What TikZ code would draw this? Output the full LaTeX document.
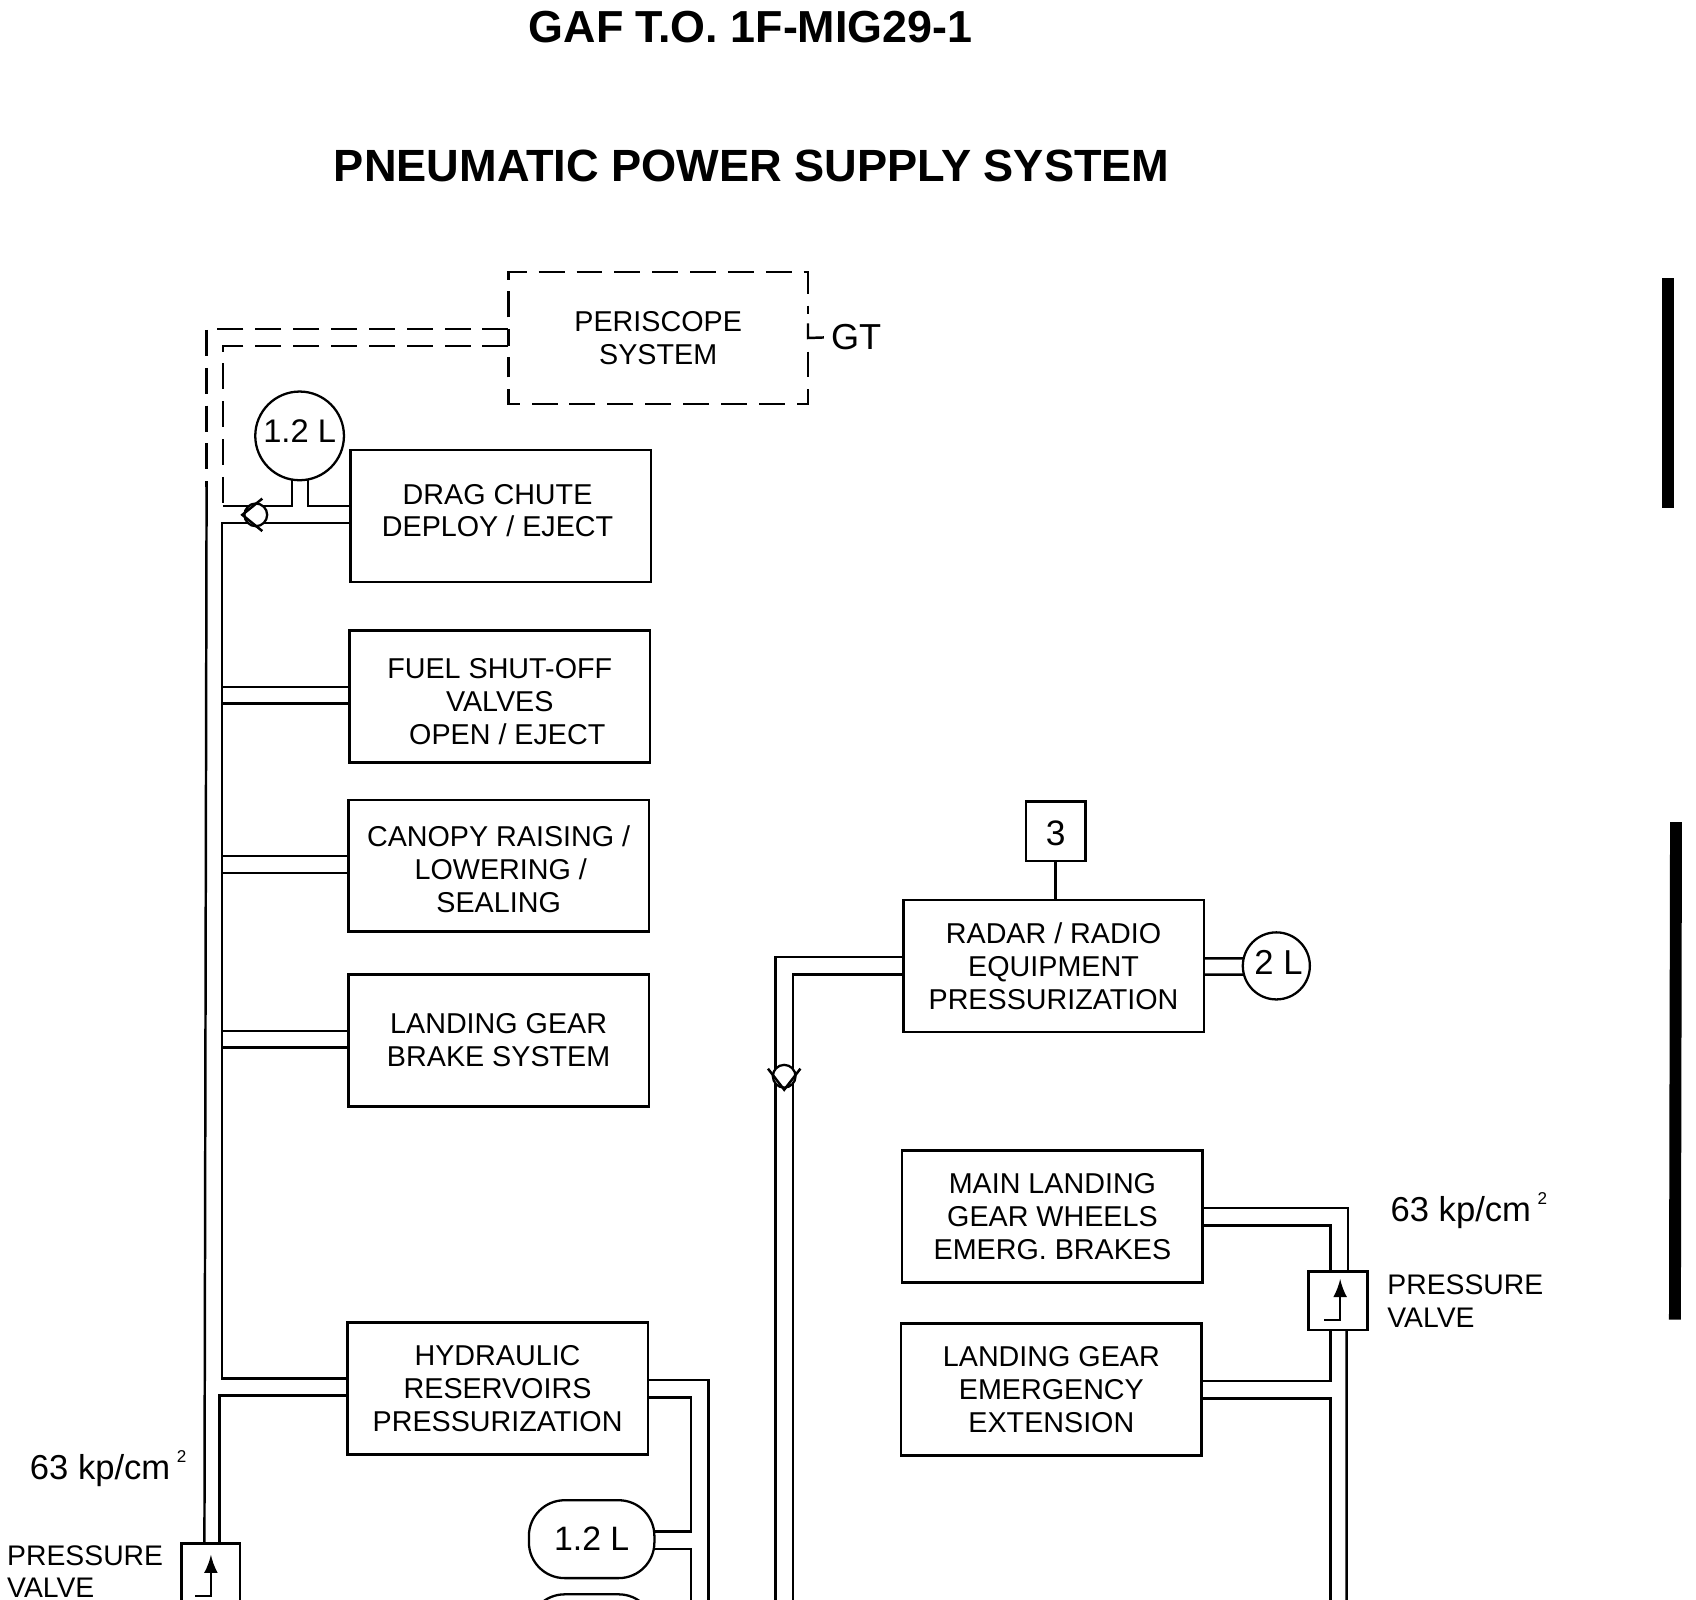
\documentclass[tikz,border=0pt]{standalone}
\usepackage{fontspec}
\setmainfont{Liberation Sans}
\usepackage{tikz}
\usetikzlibrary{arrows,positioning}

\tikzset{
  sysbox/.style={draw, line width=.7pt, minimum width=2.78cm, minimum height=1.22cm, inner sep=0pt, outer sep=0pt,
    align=center, font=\fontsize{7.55}{8.65}\selectfont},
  numbox/.style={draw, line width=.7pt, minimum size=.55cm, inner sep=0pt, outer sep=0pt, text height=.27cm, font=\fontsize{9.3}{10}\selectfont},
  valvebox/.style={draw, line width=.7pt, minimum size=.54cm, inner sep=0pt, outer sep=0pt},
  bottle/.style={draw, line width=.6pt, circle, inner sep=0pt, outer sep=0pt, font=\fontsize{8.6}{10}\selectfont},
  tank/.style={draw, line width=.6pt, rectangle, rounded corners=.33cm, minimum width=1.16cm, minimum height=.72cm,
    inner sep=0pt, outer sep=0pt, font=\fontsize{8.9}{10}\selectfont},
  pipe/.style={line width=.65pt},
  airline/.style={line width=.65pt, dash pattern=on .24cm off .11cm},
  chk/.style={draw, line width=.6pt, circle, fill=white, minimum size=.21cm, inner sep=0pt},
  lbl/.style={inner sep=0pt, align=left, font=\fontsize{7.45}{8.65}\selectfont},
  bigl/.style={inner sep=0pt, font=\fontsize{9.1}{10}\selectfont}
}
\newcommand{\kpcm}{63 kp/cm\hspace{.06cm}\raisebox{.95ex}{\fontsize{4.5}{5}\selectfont 2}}

\begin{document}
\begin{tikzpicture}[x=1cm,y=-1cm]
  \useasboundingbox (0,0) rectangle (15.68,14.79);
  \clip (0,0) rectangle (15.68,14.79);

  \node[inner sep=0pt, font=\bfseries\fontsize{11.8}{13}\selectfont] (gaf) at (6.94,.25) {GAF T.O. 1F-MIG29-1};
  \node[inner sep=0pt, font=\bfseries\fontsize{11.88}{14}\selectfont] (head) at (6.95,1.53) {PNEUMATIC POWER SUPPLY SYSTEM};

  \node[sysbox, draw=none, minimum width=2.77cm] (peri) at (6.085,3.125) {PERISCOPE\\SYSTEM};
  \draw[airline] ([yshift=1.9mm]peri.west) -- (peri.north west) -- (peri.north east) -- ([yshift=2.2mm]peri.east);
  \draw[airline] ([yshift=-1.25mm]peri.east) -- (peri.south east) -- (peri.south west) -- ([yshift=-1.75mm]peri.west);
  \node[inner sep=0pt, font=\fontsize{9.5}{10}\selectfont] (gt) at (7.915,3.12) {GT};

  \node[bottle, minimum size=.82cm, text depth=.08cm] (bot1) at (2.77,4.03) {1.2 L};
  \node[sysbox, text depth=.10cm] (drag) at (4.63,4.77) {DRAG CHUTE\hspace*{.06cm}\\DEPLOY / EJECT\hspace*{.06cm}};
  \node[sysbox] (fuel) at (4.62,6.44) {\rule{0pt}{.28cm}FUEL SHUT-OFF\\VALVES\\\hspace*{.14cm}OPEN / EJECT};
  \node[sysbox] (canopy) at (4.61,8.005) {\rule{0pt}{.26cm}CANOPY RAISING /\\\hspace*{.04cm}LOWERING /\\SEALING};
  \node[sysbox, text depth=.01cm] (brake) at (4.61,9.62) {LANDING GEAR\\BRAKE SYSTEM};
  \node[sysbox] (hyd) at (4.60,12.835) {HYDRAULIC\\RESERVOIRS\\PRESSURIZATION};

  \node[tank] (tank3) at (5.47,14.23) {1.2 L};
  \node[tank] (tank4) at (5.47,15.10) {};

  \node[numbox] (num3) at (9.76,7.685) {3};
  \node[sysbox] (radar) at (9.74,8.93) {RADAR / RADIO\\EQUIPMENT\\PRESSURIZATION};
  \node[bottle, minimum size=.62cm, text depth=.06cm, font=\fontsize{9.1}{10}\selectfont] (bot2) at (11.80,8.93) {\hspace*{.04cm}2 L};
  \node[sysbox] (mainlg) at (9.73,11.245) {MAIN LANDING\\GEAR WHEELS\\EMERG. BRAKES};
  \node[sysbox] (emerg) at (9.72,12.845) {LANDING GEAR\\EMERGENCY\\EXTENSION};

  \node[valvebox] (lvalve) at (1.95,14.54) {};
  \node[valvebox] (rvalve) at (12.37,12.025) {};

  \coordinate (outer) at (1.91,4.50);
  \coordinate (inner) at (2.06,4.68);
  \coordinate (lbend) at (2.05,6);
  \coordinate (rl) at (7.17,14.85);
  \coordinate (ri) at (7.33,14.85);
  \coordinate (hb1) at (6.55,14.85);
  \coordinate (hb2) at (6.39,13.5);
  \coordinate (hb3) at (6.39,14.85);
  \coordinate (rb1) at (12.30,14.85);
  \coordinate (rb2) at (12.45,14.85);

  \draw[airline] ([yshift=.85mm]peri.west) -| (outer);
  \draw[airline] ([yshift=-.75mm]peri.west) -| (inner);
  \draw[pipe] ([yshift=.85mm]peri.west) -- ([yshift=-.75mm]peri.west);
  \draw[pipe] ([yshift=1.35mm]peri.east) -- (peri.east) -- ([xshift=-.6mm]gt.west);

  \draw[pipe] (outer) -- ([xshift=-.6mm]lvalve.north);
  \draw[pipe] (inner) -| (bot1.260);
  \draw[pipe] (bot1.281) |- ([yshift=.9mm]drag.west);
  \foreach \a/\b in {drag/fuel,fuel/canopy,canopy/brake,brake/hyd}
    \draw[pipe] ([yshift=-.65mm]\a.west) -| (lbend) |- ([yshift=.9mm]\b.west);
  \draw[pipe] ([yshift=-.65mm]hyd.west) -| ([xshift=.8mm]lvalve.north);

  \draw[pipe] ([yshift=.75mm]hyd.east) -| (hb1);
  \draw[pipe] ([yshift=-.85mm]hyd.east) -| (hb2) |- ([yshift=.7mm]tank3.east);
  \draw[pipe] ([yshift=-.9mm]tank3.east) -| (hb3);

  \draw[pipe] (num3) -- (num3 |- radar.north);
  \draw[pipe] ([yshift=.8mm]radar.west) -| (rl);
  \draw[pipe] ([yshift=-.8mm]radar.west) -| (ri);
  \draw[pipe] ([yshift=.7mm]radar.east) -- (bot2.167);
  \draw[pipe] ([yshift=-.8mm]radar.east) -- (bot2.195);

  \draw[pipe] ([yshift=.75mm]mainlg.east) -| ([xshift=.9mm]rvalve.north);
  \draw[pipe] ([yshift=-.85mm]mainlg.east) -| ([xshift=-.7mm]rvalve.north);
  \draw[pipe] ([xshift=-.7mm]rvalve.south) |- ([yshift=.75mm]emerg.east);
  \draw[pipe] ([yshift=-.85mm]emerg.east) -| (rb1);
  \draw[pipe] ([xshift=.8mm]rvalve.south) -- (rb2);

  \foreach \v/\dx/\dy in {lvalve/0/-.3,rvalve/.2/.05}
    \draw[pipe, -latex] ([xshift=\dx mm-1.45mm,yshift=\dy mm-1.85mm]\v.center) -- ++(1.45mm,0) -- ++(0,3.8mm);

  \node[chk] (chk1) at (2.365,4.76) {};
  \draw[pipe] ([xshift=.06cm,yshift=.15cm]chk1.center) -- ([xshift=-.125cm]chk1.center) -- ([xshift=.06cm,yshift=-.15cm]chk1.center);
  \node[chk] (chk2) at (7.25,9.95) {};
  \draw[pipe] ([xshift=-.15cm,yshift=.07cm]chk2.center) -- ([yshift=-.125cm]chk2.center) -- ([xshift=.15cm,yshift=.07cm]chk2.center);

  \node[bigl, anchor=west] (lkp) at (.27,13.58) {\kpcm};
  \node[lbl, anchor=west] (lpv) at (.06,14.53) {PRESSURE\\VALVE};
  \node[bigl, anchor=west] (rkp) at (12.85,11.19) {\kpcm};
  \node[lbl, anchor=west] (rpv) at (12.82,12.03) {PRESSURE\\VALVE};

  \fill (15.37,2.57) rectangle (15.48,4.70);
  \fill (15.44,7.60) -- (15.55,7.60) -- (15.54,12.20) -- (15.43,12.20) -- cycle;
\end{tikzpicture}
\end{document}
